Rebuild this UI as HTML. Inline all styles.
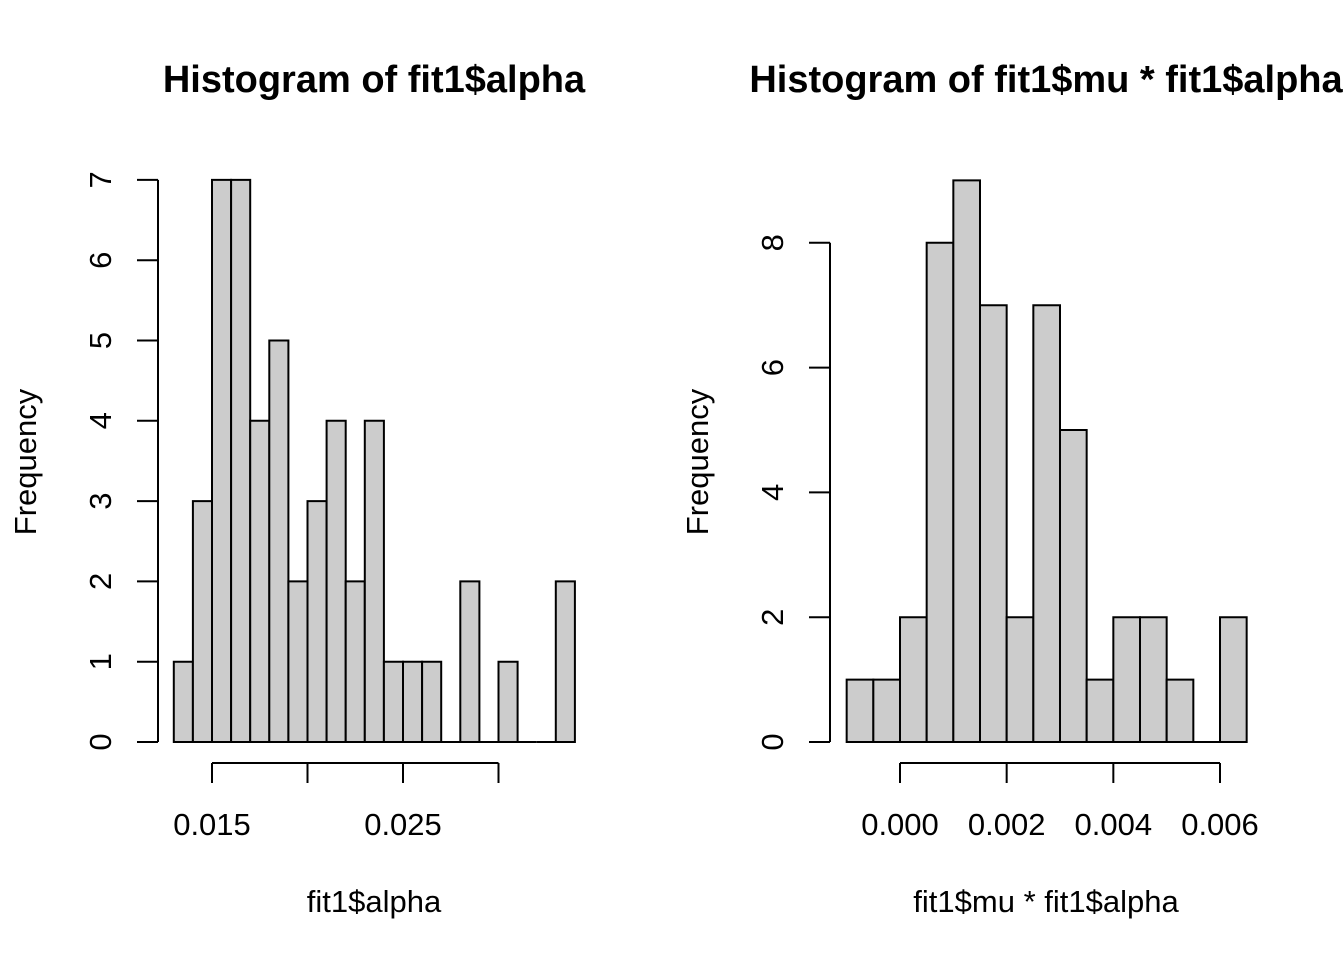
<!DOCTYPE html>
<html><head><meta charset="utf-8"><style>
html,body{margin:0;padding:0;background:#fff;overflow:hidden;}
svg{display:block;font-family:"Liberation Sans",Arial,sans-serif;}
</style></head><body>
<svg id="c" width="1344" height="960" viewBox="0 0 1344 960"></svg>
<script>
const leftCounts=[1,3,7,7,4,5,2,3,4,2,4,1,1,1,0,2,0,1,0,0,2];
const leftStart=0.013, leftBin=0.001;
const leftXTicks=[0.015,0.02,0.025,0.03];
const leftXLabels=["0.015","","0.025",""];
const leftYTicks=[0,1,2,3,4,5,6,7];
const rightCounts=[1,1,2,8,9,7,2,7,5,1,2,2,1,0,2];
const rightStart=-0.001, rightBin=0.0005;
const rightXTicks=[0,0.002,0.004,0.006];
const rightXLabels=["0.000","0.002","0.004","0.006"];
const rightYTicks=[0,2,4,6,8];

const NS="http://www.w3.org/2000/svg";
const svg=document.getElementById('c');
function el(tag,attrs,parent){const e=document.createElementNS(NS,tag);for(const k in attrs)e.setAttribute(k,attrs[k]);(parent||svg).appendChild(e);return e;}

function panel(p){
  const g=el('g',{});
  
  
  const xs=v=>p.x0+(v-p.v0)*p.pxPerUnit;
  const ys=v=>742-v*p.pyPerUnit;
  p.counts.forEach((c,i)=>{
    const a=xs(p.start+i*p.bin), b=xs(p.start+(i+1)*p.bin);
    const y=ys(c);
    const r=el('path',{d:`M${a},742 L${a},${y} L${b},${y} L${b},742 Z`,fill:'#cccccc',stroke:'#000','stroke-width':2},g);
    
    
  });
  const ya=el('g',{},g);
  
  
  const yt=p.yTicks;
  el('line',{x1:p.yAxisX,x2:p.yAxisX,y1:ys(yt[0]),y2:ys(yt[yt.length-1]),stroke:'#000','stroke-width':2},ya);
  yt.forEach(v=>{
    el('line',{x1:p.yAxisX-21,x2:p.yAxisX,y1:ys(v),y2:ys(v),stroke:'#000','stroke-width':2},ya);
    const t=el('text',{x:0,y:0,'font-size':31,'text-anchor':'middle',transform:`translate(${p.yAxisX-47},${ys(v)}) rotate(-90)`},ya);
    t.textContent=String(v);
  });
  const xa=el('g',{},g);
  
  
  const xt=p.xTicks;
  el('line',{x1:xs(xt[0]),x2:xs(xt[xt.length-1]),y1:763,y2:763,stroke:'#000','stroke-width':2},xa);
  xt.forEach((v,i)=>{
    el('line',{x1:xs(v),x2:xs(v),y1:763,y2:783,stroke:'#000','stroke-width':2},xa);
    if(p.xLabels[i]){const t=el('text',{x:xs(v),y:835,'font-size':31,'text-anchor':'middle'},xa);t.textContent=p.xLabels[i];}
  });
  const title=el('text',{x:p.titleX,y:92,'font-size':38,'font-weight':'bold','text-anchor':'middle'},g);
  
  
  title.textContent=p.title;
  const xl=el('text',{x:p.titleX,y:912,'font-size':31,'text-anchor':'middle'},g);
  
  
  xl.textContent=p.xTitle;
  const yl=el('text',{x:0,y:0,'font-size':31,'text-anchor':'middle',transform:`translate(${p.yAxisX-122},462) rotate(-90)`},g);
  
  
  yl.textContent='Frequency';
}
panel({name:'left-histogram',counts:leftCounts,start:leftStart,bin:leftBin,x0:212,v0:0.015,pxPerUnit:95.5/0.005,pyPerUnit:80.3,
  yAxisX:158,yTicks:leftYTicks,xTicks:leftXTicks,xLabels:leftXLabels,titleX:374,title:'Histogram of fit1$alpha',xTitle:'fit1$alpha'});
panel({name:'right-histogram',counts:rightCounts,start:rightStart,bin:rightBin,x0:900,v0:0,pxPerUnit:320/0.006,pyPerUnit:62.4,
  yAxisX:830,yTicks:rightYTicks,xTicks:rightXTicks,xLabels:rightXLabels,titleX:1046,title:'Histogram of fit1$mu * fit1$alpha',xTitle:'fit1$mu * fit1$alpha'});
</script>
</body></html>
